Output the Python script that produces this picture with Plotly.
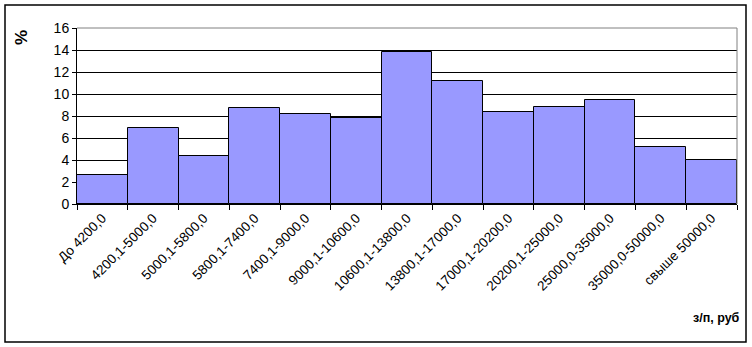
import plotly.graph_objects as go

categories = ["До 4200,0", "4200,1-5000,0", "5000,1-5800,0", "5800,1-7400,0",
              "7400,1-9000,0", "9000,1-10600,0", "10600,1-13800,0", "13800,1-17000,0",
              "17000,1-20200,0", "20200,1-25000,0", "25000,0-35000,0", "35000,0-50000,0",
              "свыше 50000,0"]
values = [2.6, 6.9, 4.4, 8.7, 8.2, 7.8, 13.8, 11.2, 8.4, 8.8, 9.5, 5.2, 4.0]
y_ticks = [0, 2, 4, 6, 8, 10, 12, 14, 16]

FONT = "Liberation Sans, Arial, sans-serif"

fig = go.Figure(go.Bar(
    x=categories, y=values,
    marker=dict(color="#9999FF", line=dict(color="black", width=1)),
))

fig.update_layout(
    width=752, height=347,
    margin=dict(l=77, r=15, t=28, b=143),
    paper_bgcolor="white", plot_bgcolor="white",
    bargap=0, showlegend=False,
    font=dict(family=FONT, color="black"),
    xaxis=dict(
        type="category", tickangle=-45, tickson="boundaries",
        ticks="outside", ticklen=5, tickcolor="black",
        showline=True, linecolor="black", linewidth=1,
        showgrid=False, tickfont=dict(size=13.5, family=FONT),
    ),
    yaxis=dict(
        range=[0, 16], tickvals=y_ticks, ticks="outside", ticklen=4,
        tickcolor="black", showline=True, linecolor="black", linewidth=1,
        showgrid=True, gridcolor="black", gridwidth=1, zeroline=False,
        tickfont=dict(size=14, family=FONT),
    ),
    shapes=[
        dict(type="line", xref="paper", yref="paper", x0=0, x1=1, y0=1, y1=1,
             line=dict(color="#808080", width=1), layer="above"),
        dict(type="line", xref="paper", yref="paper", x0=1, x1=1, y0=0, y1=1,
             line=dict(color="#808080", width=1), layer="above"),
        dict(type="rect", xref="paper", yref="paper",
             x0=-72/660, x1=1 + 9/660, y0=-138/176, y1=1 + 23/176,
             line=dict(color="black", width=1.5), layer="below"),
    ],
    annotations=[
        dict(text="<b>%</b>", xref="paper", yref="paper", x=-55/660, y=1 - 10/176,
             showarrow=False, textangle=-90, font=dict(size=17, family=FONT),
             xanchor="center", yanchor="middle"),
        dict(text="<b>з/п, руб</b>", xref="paper", yref="paper", x=1 + 5/660, y=-114/176,
             showarrow=False, font=dict(size=12.5, family=FONT),
             xanchor="right", yanchor="middle"),
    ],
)

fig.write_html("out.html")
